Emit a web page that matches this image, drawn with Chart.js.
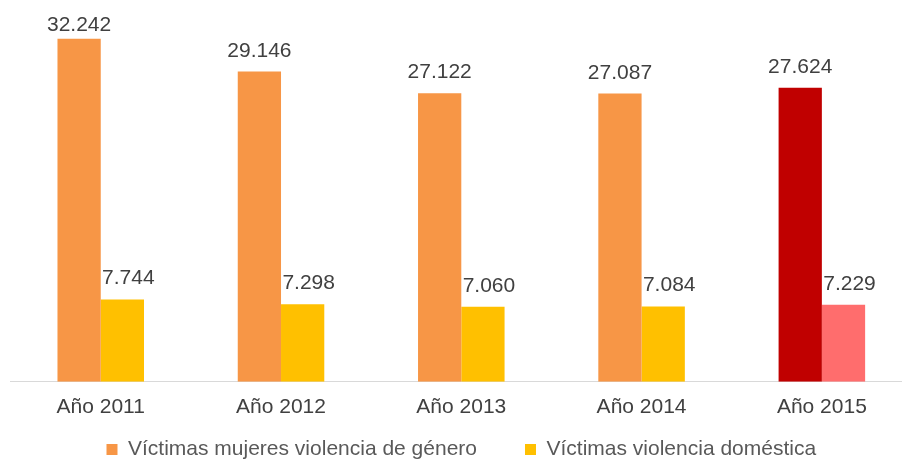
<!DOCTYPE html>
<html lang="es">
<head>
<meta charset="utf-8">
<title>Víctimas de violencia 2011-2015</title>
<script src="https://cdn.jsdelivr.net/npm/chart.js@4.4.1/dist/chart.umd.min.js"></script>
<style>
    html, body { margin: 0; padding: 0; background: #fff; overflow: hidden; }
    #wrap { position: relative; width: 912px; height: 470px; }
</style>
</head>
<body>
<div id="wrap"><canvas id="chart"></canvas></div>
<script>
// Datos
const categories = ['Año 2011', 'Año 2012', 'Año 2013', 'Año 2014', 'Año 2015'];
const seriesNames = ['Víctimas mujeres violencia de género', 'Víctimas violencia doméstica'];
const victimasGenero = [32242, 29146, 27122, 27087, 27624];
const victimasDomestica = [7744, 7298, 7060, 7084, 7229];

// Colores: el último año va resaltado en rojo
const coloresGenero = ['#F79646', '#F79646', '#F79646', '#F79646', '#C00000'];
const coloresDomestica = ['#FFC000', '#FFC000', '#FFC000', '#FFC000', '#FF6D6D'];
const coloresLeyenda = ['#F79646', '#FFC000'];

const FONT = '"Liberation Sans", Arial, sans-serif';

// miles con punto (7.744, 32.242)
function fmt(v) {
    return String(v).replace(/\B(?=(\d{3})+(?!\d))/g, '.');
}

// Etiquetas de valor encima de cada barra
const valueLabels = {
    id: 'valueLabels',
    afterDatasetsDraw(chart) {
        const ctx = chart.ctx;
        const shift = [0, 6];
        ctx.save();
        ctx.font = '21px ' + FONT;
        ctx.fillStyle = '#404040';
        ctx.textAlign = 'center';
        ctx.textBaseline = 'alphabetic';
        chart.data.datasets.forEach((ds, i) => {
            chart.getDatasetMeta(i).data.forEach((bar, j) => {
                const y = Math.max(bar.y - 15, chart.chartArea.top + 22);
                ctx.fillText(fmt(ds.data[j]), bar.x + shift[i], y);
            });
        });
        ctx.restore();
    }
};

new Chart(document.getElementById('chart'), {
    type: 'bar',
    data: {
        labels: categories,
        datasets: [
            { label: seriesNames[0], data: victimasGenero, backgroundColor: coloresGenero, borderWidth: 0 },
            { label: seriesNames[1], data: victimasDomestica, backgroundColor: coloresDomestica, borderWidth: 0 },
        ],
    },
    options: {
        responsive: true,
        maintainAspectRatio: false,
        animation: false,
        layout: { padding: { left: 10.6, top: 9.3, right: 0, bottom: 0 } },
        datasets: { bar: { categoryPercentage: 0.48, barPercentage: 1 } },
        plugins: {
            tooltip: { enabled: false },
            legend: {
                position: 'bottom',
                // título vacío con padding negativo: acerca la leyenda al eje
                title: { display: true, text: '', padding: { top: -21.5, bottom: -21.5 }, font: { size: 1, lineHeight: 1 } },
                labels: {
                    boxWidth: 11,
                    boxHeight: 11,
                    padding: 48,
                    color: '#595959',
                    font: { family: FONT, size: 21 },
                    generateLabels(chart) {
                        return chart.data.datasets.map((ds, i) => ({
                            text: ds.label,
                            fillStyle: coloresLeyenda[i],
                            strokeStyle: coloresLeyenda[i],
                            lineWidth: 0,
                            hidden: false,
                            datasetIndex: i,
                            fontColor: '#595959',
                        }));
                    },
                },
            },
        },
        scales: {
            x: {
                grid: { display: false, drawTicks: false },
                border: { display: true, color: '#D9D9D9', width: 1 },
                ticks: { color: '#404040', padding: 13, font: { family: FONT, size: 21 } },
            },
            y: {
                display: false,
                min: 0,
                max: 35000,
            },
        },
    },
    plugins: [valueLabels],
});
</script>
</body>
</html>
